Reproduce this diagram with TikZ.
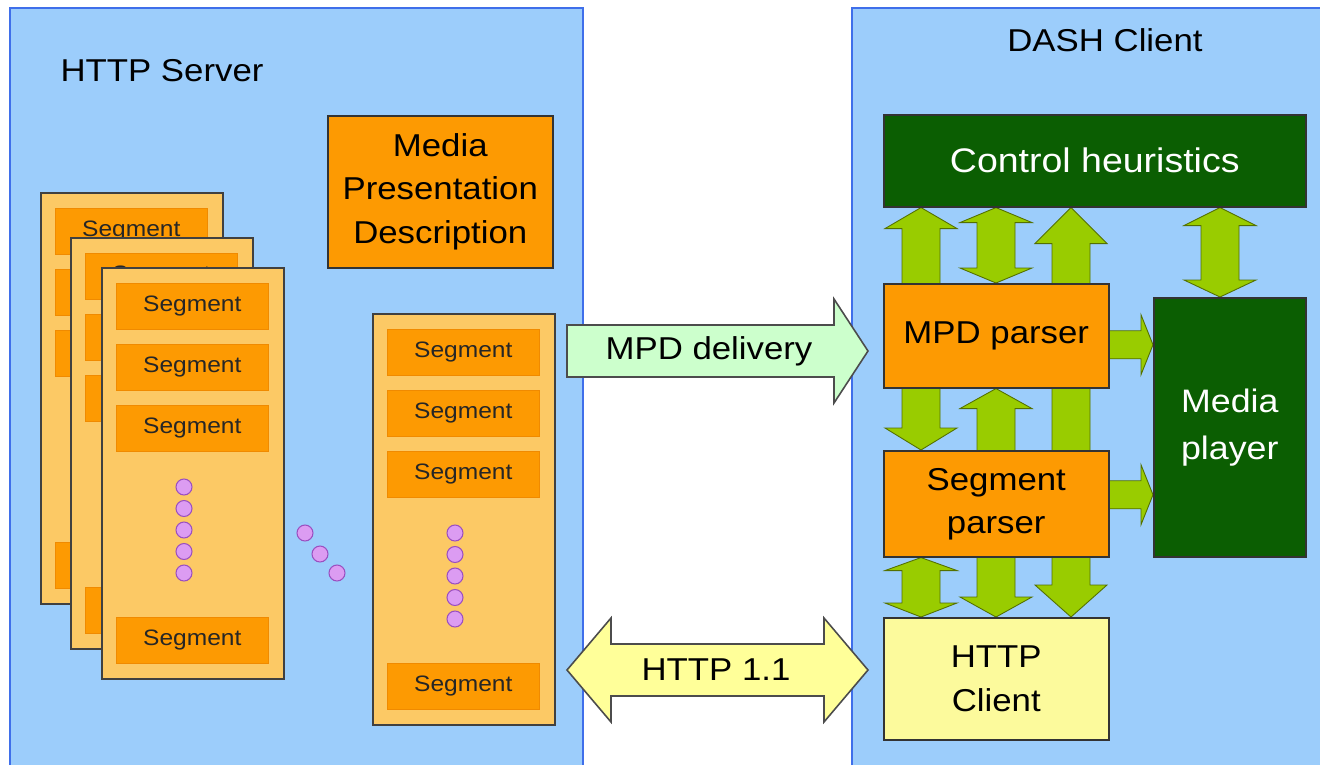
\documentclass[tikz,border=0pt]{standalone}
\usepackage{fontspec}
\setmainfont{Liberation Sans}[FakeStretch=1.1]
\usetikzlibrary{calc}

% one drawing unit = 0.02cm
\def\pxu{0.5690551pt}

\definecolor{panelfill}{HTML}{9CCDFB}
\definecolor{panelline}{HTML}{3F6FEA}
\definecolor{pagefill}{HTML}{FCC965}
\definecolor{segfill}{HTML}{FD9A02}
\definecolor{segline}{HTML}{F08A00}
\definecolor{dotfill}{HTML}{DC9CF2}
\definecolor{dotline}{HTML}{9A4FC0}
\definecolor{darkgreen}{HTML}{0B5E02}
\definecolor{lime}{HTML}{99CC00}
\definecolor{paleyellow}{HTML}{FCFA9C}
\definecolor{palegreen}{HTML}{CCFFCC}
\definecolor{palelemon}{HTML}{FFFF99}

\newcommand\bigfont{\fontsize{18}{24.5}\selectfont}
\newcommand\segfont{\fontsize{12.7}{15}\selectfont}

\pgfdeclarelayer{panels}
\pgfdeclarelayer{links}
\pgfsetlayers{panels,links,main}

% vertical double block arrow: top tip, bottom tip, top head length, bottom head length
\newcommand\vdarrow[4]{%
  \path[garrow] let \p1=(#1), \p2=(#2) in
    (\x1,\y1) -- (\x1+36*\pxu,\y1-#3*\pxu) -- (\x1+19*\pxu,\y1-#3*\pxu)
    -- (\x1+19*\pxu,\y2+#4*\pxu) -- (\x1+36*\pxu,\y2+#4*\pxu) -- (\x2,\y2)
    -- (\x1-36*\pxu,\y2+#4*\pxu) -- (\x1-19*\pxu,\y2+#4*\pxu)
    -- (\x1-19*\pxu,\y1-#3*\pxu) -- (\x1-36*\pxu,\y1-#3*\pxu) -- cycle;}

% horizontal single block arrow: style, tail, tip, shaft half width, head half width, head length
\newcommand\hsarrow[6]{%
  \path[#1] let \p1=(#2), \p2=(#3) in
    (\x1,\y1+#4*\pxu) -- (\x2-#6*\pxu,\y1+#4*\pxu) -- (\x2-#6*\pxu,\y1+#5*\pxu)
    -- (\x2,\y2) -- (\x2-#6*\pxu,\y1-#5*\pxu) -- (\x2-#6*\pxu,\y1-#4*\pxu)
    -- (\x1,\y1-#4*\pxu) -- cycle;}

% horizontal double block arrow: style, left tip, right tip, shaft half width, head half width, head length
\newcommand\hdarrow[6]{%
  \path[#1] let \p1=(#2), \p2=(#3) in
    (\x1,\y1) -- (\x1+#6*\pxu,\y1+#5*\pxu) -- (\x1+#6*\pxu,\y1+#4*\pxu)
    -- (\x2-#6*\pxu,\y1+#4*\pxu) -- (\x2-#6*\pxu,\y1+#5*\pxu) -- (\x2,\y2)
    -- (\x2-#6*\pxu,\y1-#5*\pxu) -- (\x2-#6*\pxu,\y1-#4*\pxu)
    -- (\x1+#6*\pxu,\y1-#4*\pxu) -- (\x1+#6*\pxu,\y1-#5*\pxu) -- cycle;}

% a stack page of segments; #4 is the label of the lower segments
% (left empty on pages whose lower segments lie under the next page)
\newcommand\segpage[4]{%
  \node[pagebox] (#1) at (#2,#3) {};
  \foreach \k/\dy/\t in {1/16/Segment,2/77/#4,3/138/#4,4/350/#4}
    \node[segbox] (#1-s\k) at ($(#1.north west)+(15,\dy)$) {\t};
  \foreach \k in {0,...,4}
    \node[dot] (#1-d\k) at ($(#1.north west)+(83,220+21.5*\k)$) {};}

\begin{document}
\begin{tikzpicture}[x=0.02cm, y=-0.02cm,
  panel/.style={fill=panelfill},
  panelborder/.style={draw=panelline, line width=1.4pt},
  pagebox/.style={draw=black!75, fill=pagefill, line width=0.9pt, inner sep=0,
    anchor=north west, minimum width=182*\pxu, minimum height=411*\pxu},
  segbox/.style={fill=segfill, draw=segline, line width=0.4pt, inner sep=0,
    anchor=north west, minimum width=152*\pxu, minimum height=46*\pxu,
    font=\segfont, text=black!85},
  dot/.style={circle, fill=dotfill, draw=dotline, line width=0.6pt,
    minimum size=16*\pxu, inner sep=0},
  box/.style={draw=black!80, line width=0.9pt, inner sep=0, anchor=north west,
    align=center, font=\bigfont, text=black},
  garrow/.style={fill=lime, draw=lime!55!black, line width=0.5pt, line join=miter},
  title/.style={font=\bigfont, text=black}]

\useasboundingbox (0,0) rectangle (1320,765);

% panels
\begin{pgfonlayer}{panels}
  \fill[panel] (10,8) rectangle (583,765);
  \draw[panelborder] (10,765) -- (10,8) -- (583,8) -- (583,765);
  \fill[panel] (852,8) rectangle (1320,765);
  \draw[panelborder] (852,765) -- (852,8) -- (1320,8);
\end{pgfonlayer}

\node[title] (server) at (162,71) {HTTP Server};
\node[title] (client) at (1105,40) {DASH Client};

% server side
\node[box, fill=segfill, minimum width=225*\pxu, minimum height=152*\pxu] (mpd)
  at (327,115) {Media\\Presentation\\Description};
\segpage{pa}{40}{192}{}
\segpage{pb}{70}{237}{}
\segpage{pc}{101}{267}{Segment}
\segpage{pd}{372}{313}{Segment}
\node[dot] (g1) at (305,533) {};
\node[dot] (g2) at (320,554) {};
\node[dot] (g3) at (337,573) {};

% client side
\node[box, fill=darkgreen, text=white, minimum width=422*\pxu, minimum height=92*\pxu,
  font=\fontsize{19.4}{24}\selectfont] (ctrl) at (883,114) {Control heuristics};
\node[box, fill=segfill, minimum width=225*\pxu, minimum height=104*\pxu] (mpdp)
  at (883,283) {MPD parser};
\node[box, fill=segfill, minimum width=225*\pxu, minimum height=106*\pxu] (segp)
  at (883,450) {Segment\\parser};
\node[box, fill=paleyellow, minimum width=225*\pxu, minimum height=122*\pxu] (httpc)
  at (883,617) {HTTP\\Client};
\node[box, fill=darkgreen, text=white, minimum width=152*\pxu, minimum height=259*\pxu,
  font=\fontsize{18.5}{26.7}\selectfont] (player) at (1153,297) {Media\\player};

% column positions of the vertical links
\coordinate (c1) at (921,0);
\coordinate (c2) at (996,0);
\coordinate (c3) at (1071,0);
\coordinate (c4) at (1220,0);

\begin{pgfonlayer}{links}
  \vdarrow{c1 |- ctrl.south}{c1 |- segp.north}{21}{22}
  \vdarrow{c3 |- ctrl.south}{c3 |- httpc.north}{36}{32}
  \vdarrow{c2 |- ctrl.south}{c2 |- mpdp.north}{15}{15}
  \vdarrow{c2 |- mpdp.south}{c2 |- httpc.north}{20}{20}
  \vdarrow{c1 |- segp.south}{c1 |- httpc.north}{13}{14}
  \vdarrow{c4 |- ctrl.south}{c4 |- player.north}{18}{17}
  \coordinate (gt) at ($(mpdp.east)+(0,9)$);
  \hsarrow{garrow}{gt}{gt -| player.west}{14}{30}{12}
  \coordinate (ht) at ($(segp.east)+(0,-9)$);
  \hsarrow{garrow}{ht}{ht -| player.west}{14}{30}{12}
\end{pgfonlayer}

% transfers between server and client
\coordinate (mpdtail) at (567,351);
\coordinate (mpdtip) at (868,351);
\hsarrow{fill=palegreen, draw=black!70, line width=0.9pt}{mpdtail}{mpdtip}{26}{52}{34}
\node[title] (mpdlbl) at (709,351) {MPD delivery};

\coordinate (httpl) at (567,670);
\coordinate (httpr) at (868,670);
\hdarrow{fill=palelemon, draw=black!70, line width=0.9pt}{httpl}{httpr}{26}{52}{44}
\node[title] (httplbl) at (716,670) {HTTP 1.1};

\end{tikzpicture}
\end{document}
